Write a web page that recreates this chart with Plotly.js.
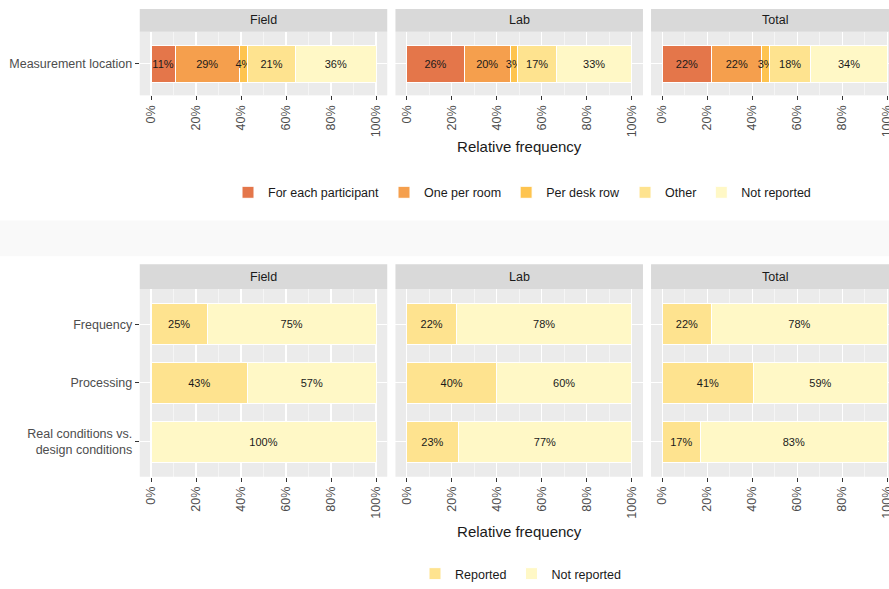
<!DOCTYPE html>
<html>
<head>
<meta charset="utf-8">
<script src="https://cdn.plot.ly/plotly-3.0.1.min.js"></script>
<style>html,body{margin:0;padding:0;background:#fff;overflow:hidden}#chart{width:889px;height:589px}</style>
</head>
<body>
<div id="chart"></div>
<script>
// ---------------- data ----------------
var panels = ['Field', 'Lab', 'Total'];

// top chart: measurement location
var locationRow = ['Measurement location'];
var locationCategories = ['For each participant', 'One per room', 'Per desk row', 'Other', 'Not reported'];
var locationColors = ['#e4764a', '#f59f4d', '#fec44f', '#fee38f', '#fff8c6'];
var locationField = [10.7, 28.6, 3.6, 21.4, 35.7];
var locationLab   = [25.6, 20.4, 3.3, 17.4, 33.3];
var locationTotal = [21.9, 22.4, 3.4, 18.3, 34.0];

// bottom chart: reporting of aspects
var aspects = ['Frequency', 'Processing', 'Real conditions vs.<br>design conditions'];
var reportCategories = ['Reported', 'Not reported'];
var reportColors = ['#fee38f', '#fff8c6'];
var fieldReported    = [25.0, 42.9, 0];
var fieldNotReported = [75.0, 57.1, 100];
var labReported      = [22.2, 40.0, 22.9];
var labNotReported   = [77.8, 60.0, 77.1];
var totalReported    = [21.9, 40.6, 16.9];
var totalNotReported = [78.1, 59.4, 83.1];

var xTickVals = [0, 20, 40, 60, 80, 100];
var xTickText = ['0%', '20%', '40%', '60%', '80%', '100%'];
var xTitle = 'Relative frequency';

// ---------------- layout helpers ----------------
var W = 889, H = 589;
function px(x) { return x / W; }
function py(y) { return 1 - y / H; }
function lbl(v) { return v > 0 ? Math.round(v) + '%' : ''; }

var FONT = 'Liberation Sans, Arial, sans-serif';
var TICK = 12.5;
var traces = [];

var topVals = [locationField, locationLab, locationTotal];
for (var p = 0; p < 3; p++) {
  for (var c = 0; c < locationCategories.length; c++) {
    var v = topVals[p][c];
    traces.push({
      type: 'bar', orientation: 'h',
      x: [v], y: locationRow,
      xaxis: p === 0 ? 'x' : 'x' + (p + 1), yaxis: 'y',
      name: locationCategories[c], legendgroup: 'loc' + c, legend: 'legend',
      showlegend: p === 0,
      width: 0.7,
      marker: {color: locationColors[c], line: {color: '#ffffff', width: 1}},
      text: [lbl(v)], textposition: 'inside', insidetextanchor: 'middle',
      textangle: 0, constraintext: 'none',
      insidetextfont: {family: FONT, size: 11, color: '#1a1a1a'},
      hoverinfo: 'name+x'
    });
  }
}

var botVals = [[fieldReported, fieldNotReported], [labReported, labNotReported], [totalReported, totalNotReported]];
for (var p = 0; p < 3; p++) {
  for (var c = 0; c < reportCategories.length; c++) {
    var arr = botVals[p][c];
    traces.push({
      type: 'bar', orientation: 'h',
      x: arr, y: aspects,
      xaxis: 'x' + (p + 4), yaxis: 'y2',
      name: reportCategories[c], legendgroup: 'rep' + c, legend: 'legend2',
      showlegend: p === 0,
      width: 0.7,
      marker: {color: reportColors[c], line: {color: '#ffffff', width: 1}},
      text: arr.map(lbl), textposition: 'inside', insidetextanchor: 'middle',
      textangle: 0, constraintext: 'none',
      insidetextfont: {family: FONT, size: 11, color: '#1a1a1a'},
      hoverinfo: 'name+x'
    });
  }
}

// panel geometry (pixels): 0% positions and scale
var zeroPx = [151, 406.7, 662.3];
var pxPerPct = 2.25;
var layout = {
  width: W, height: H,
  margin: {l: 0, r: 0, t: 0, b: 0, pad: 0},
  paper_bgcolor: '#ffffff', plot_bgcolor: '#ebebeb',
  barmode: 'stack', showlegend: true,
  font: {family: FONT, size: 12, color: '#4d4d4d'},
  shapes: [], annotations: []
};

function xAxis(p, row) {
  var left = zeroPx[p] - 5 * pxPerPct;
  var right = Math.min(W, zeroPx[p] + 105 * pxPerPct);
  var rmax = (right - zeroPx[p]) / pxPerPct;
  return {
    domain: [px(left), px(right)],
    range: [-5, rmax],
    anchor: row === 0 ? 'y' : 'y2',
    tickmode: 'array', tickvals: xTickVals, ticktext: xTickText,
    tickangle: -90, ticks: 'outside', ticklen: 4, tickwidth: 1, tickcolor: '#333333',
    tickfont: {family: FONT, size: TICK, color: '#4d4d4d'},
    ticklabeloverflow: 'allow',
    showgrid: true, gridcolor: '#ffffff', gridwidth: 1.1,
    minor: {tickmode: 'array', tickvals: [10, 30, 50, 70, 90], showgrid: true, gridcolor: '#ffffff', gridwidth: 0.5, ticks: ''},
    zeroline: false, showline: false, fixedrange: true
  };
}
for (var p = 0; p < 3; p++) {
  layout[p === 0 ? 'xaxis' : 'xaxis' + (p + 1)] = xAxis(p, 0);
  layout['xaxis' + (p + 4)] = xAxis(p, 1);
}
layout.xaxis2.title = {text: xTitle, font: {family: FONT, size: 15, color: '#1a1a1a'}, standoff: 5};
layout.xaxis5.title = {text: xTitle, font: {family: FONT, size: 15, color: '#1a1a1a'}, standoff: 8};

var topDom = [py(96), py(32)];
var botDom = [py(480), py(291)];
layout.yaxis = {
  domain: topDom, anchor: 'x', type: 'category',
  range: [-0.6, 0.6],
  ticks: 'outside', ticklen: 4, tickwidth: 1, tickcolor: '#333333',
  tickfont: {family: FONT, size: TICK, color: '#4d4d4d'},
  showgrid: true, gridcolor: '#ffffff', gridwidth: 1.1,
  zeroline: false, showline: false, fixedrange: true
};
layout.yaxis2 = {
  domain: botDom, anchor: 'x4', type: 'category',
  categoryorder: 'array', categoryarray: aspects,
  range: [2.6, -0.6],
  ticks: 'outside', ticklen: 4, tickwidth: 1, tickcolor: '#333333',
  tickfont: {family: FONT, size: TICK, color: '#4d4d4d'},
  showgrid: true, gridcolor: '#ffffff', gridwidth: 1.1,
  zeroline: false, showline: false, fixedrange: true
};

// separator band between the two charts
layout.shapes.push({type: 'rect', xref: 'paper', yref: 'paper', x0: 0, x1: 1, y0: py(258), y1: py(222),
  fillcolor: '#f9f9f9', line: {width: 0}, layer: 'below'});

// facet strips
var strips = [[9, 32], [266, 291]];
for (var r = 0; r < 2; r++) {
  for (var p = 0; p < 3; p++) {
    var left = zeroPx[p] - 5 * pxPerPct;
    var fullRight = zeroPx[p] + 105 * pxPerPct;
    layout.shapes.push({type: 'rect', xref: 'paper', yref: 'paper',
      x0: px(left), x1: Math.min(1, px(fullRight)), y0: py(strips[r][1]), y1: py(strips[r][0]),
      fillcolor: '#d9d9d9', line: {width: 0}});
    layout.annotations.push({xref: 'paper', yref: 'paper',
      x: px((left + fullRight) / 2), y: py((strips[r][0] + strips[r][1]) / 2),
      xanchor: 'center', yanchor: 'middle', showarrow: false,
      text: panels[p], font: {family: FONT, size: 12.5, color: '#1a1a1a'}});
  }
}

layout.legend = {
  orientation: 'h', x: px(522), xanchor: 'center', y: py(194), yanchor: 'middle',
  font: {family: FONT, size: 12.5, color: '#1a1a1a'}, bgcolor: 'rgba(0,0,0,0)',
  traceorder: 'normal', itemclick: false, itemdoubleclick: false
};
layout.legend2 = {
  orientation: 'h', x: px(521), xanchor: 'center', y: py(578), yanchor: 'middle',
  font: {family: FONT, size: 12.5, color: '#1a1a1a'}, bgcolor: 'rgba(0,0,0,0)',
  traceorder: 'normal', itemclick: false, itemdoubleclick: false
};

Plotly.newPlot('chart', traces, layout, {staticPlot: true, displayModeBar: false});
</script>
</body>
</html>
